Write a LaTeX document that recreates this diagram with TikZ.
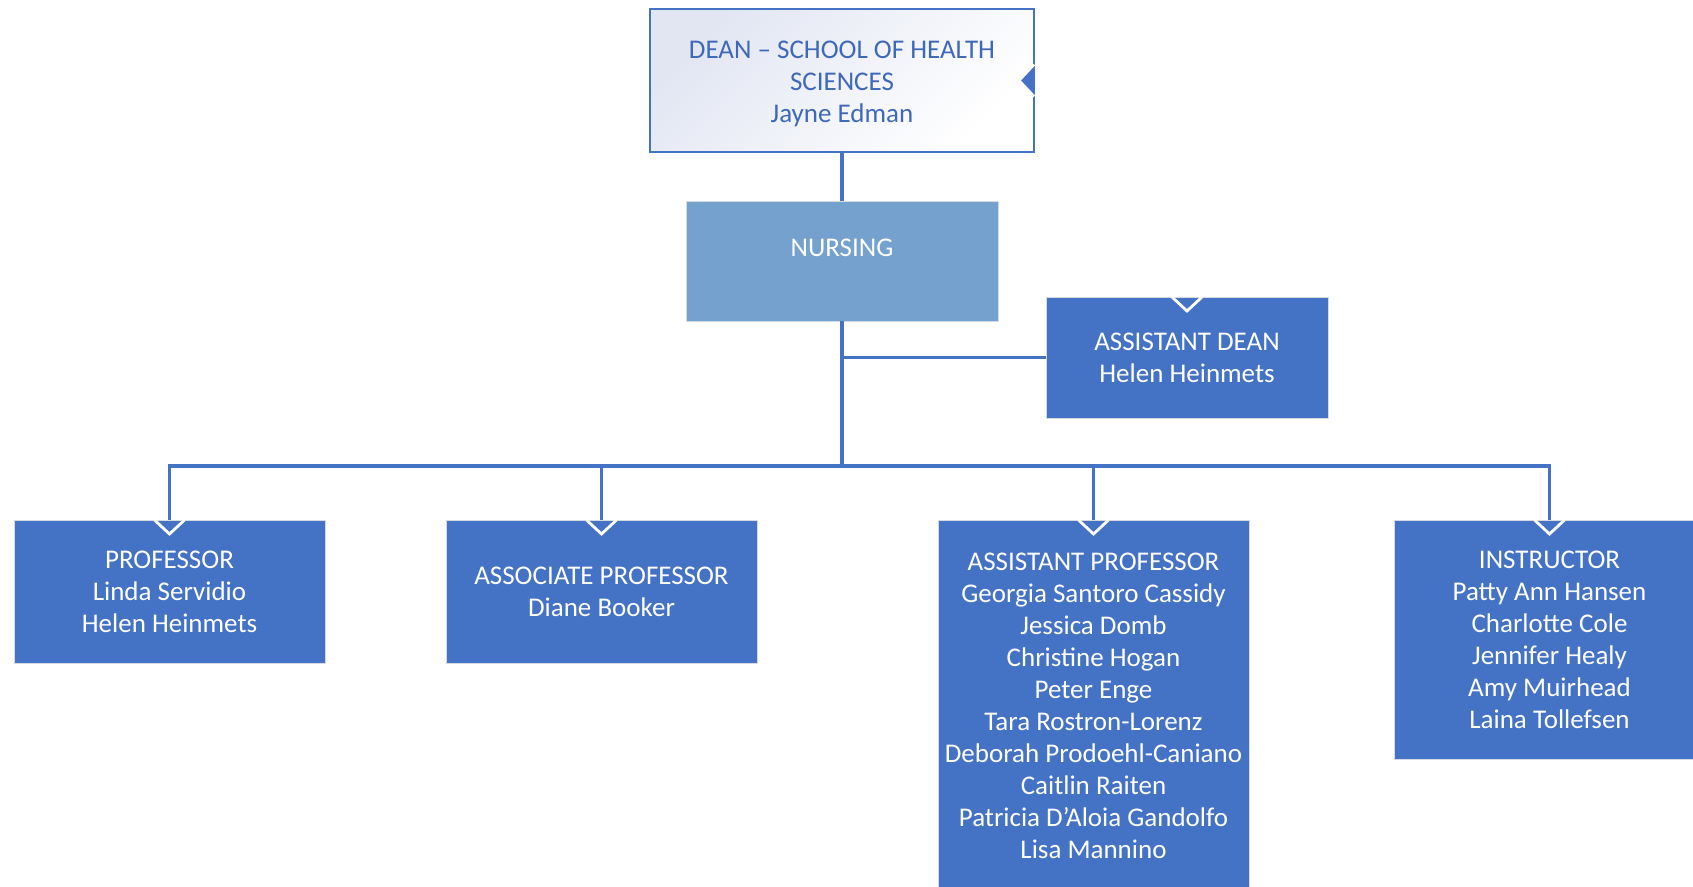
\documentclass[tikz,border=0pt]{standalone}
\usepackage{fontspec}
\setmainfont{Carlito}
\definecolor{acc}{HTML}{4472C4}
\definecolor{nurs}{HTML}{75A1CE}
\definecolor{deantext}{HTML}{3E68B8}
\definecolor{gradc}{HTML}{E2E6F3}
\definecolor{edge}{HTML}{D6D9E0}
\begin{document}
\begin{tikzpicture}[x=1pt,y=1pt,
  box/.style={rectangle, fill=acc, draw=edge, line width=1pt, text=white, align=center,
    inner sep=0pt, outer sep=0pt, minimum width=311, font=\fontsize{27}{32}\selectfont},
  deanbox/.style={box, draw=acc, line width=2pt, text=deantext, top color=gradc, bottom color=white, shading angle=45},
  conn/.style={draw=acc, line width=3.5pt},
  vmark/.style={draw=white, line width=2.8pt, line join=miter},
  vfill/.style={fill=acc}]
\clip (0,0) rectangle (1693,-886);
\path[use as bounding box] (0,0) rectangle (1693,-886);
% nodes
\node[deanbox, minimum width=384, minimum height=143] (dean) at (842,-80.5)
  {\rule{0pt}{24pt}DEAN -- SCHOOL OF HEALTH\\SCIENCES\\Jayne Edman};
\node[box, fill=nurs, minimum width=312, minimum height=120] (nursing) at (842,-261)
  {NURSING\\[-6pt] ~};
\node[box, minimum width=282, minimum height=121] (asstdean) at (1187,-357.5)
  {ASSISTANT DEAN\\Helen Heinmets};
\node[box, minimum height=143] (prof) at (169.5,-591.5)
  {PROFESSOR\\Linda Servidio\\Helen Heinmets};
\node[box, minimum height=143] (assoc) at (601.5,-591.5)
  {ASSOCIATE PROFESSOR\\Diane Booker};
\node[box, minimum height=372] (asstprof) at (1093.5,-706)
  {ASSISTANT PROFESSOR\\Georgia Santoro Cassidy\\Jessica Domb\\Christine Hogan\\Peter Enge\\Tara Rostron-Lorenz\\Deborah Prodoehl-Caniano\\Caitlin Raiten\\Patricia D’Aloia Gandolfo\\Lisa Mannino};
\node[box, minimum height=239] (instr) at (1549.5,-639.5)
  {INSTRUCTOR\\Patty Ann Hansen\\Charlotte Cole\\Jennifer Healy\\Amy Muirhead\\Laina Tollefsen};
% connectors
\coordinate (bus) at (842,-466);
\draw[conn] (dean.south) -- (nursing.north);
\draw[conn] (nursing.south) -- (bus);
\draw[conn] (nursing.south |- asstdean.west) -- (asstdean.west);
\draw[conn] (bus) -| (prof.north);
\draw[conn] (bus) -| (assoc.north);
\draw[conn] (bus) -| (asstprof.north);
\draw[conn] (bus) -| (instr.north);
% markers
\foreach \n in {prof,assoc,asstprof,instr,asstdean}{
  \draw[vmark] ([xshift=-15pt]\n.north) -- ([yshift=-14pt]\n.north) -- ([xshift=15pt]\n.north);
}
\fill[vfill] ([yshift=16pt]dean.east) -- ([xshift=-15pt]dean.east) -- ([yshift=-16pt]dean.east) -- cycle;
\draw[vmark] ([yshift=16pt]dean.east) -- ([xshift=-15pt]dean.east) -- ([yshift=-16pt]dean.east);
\end{tikzpicture}
\end{document}
